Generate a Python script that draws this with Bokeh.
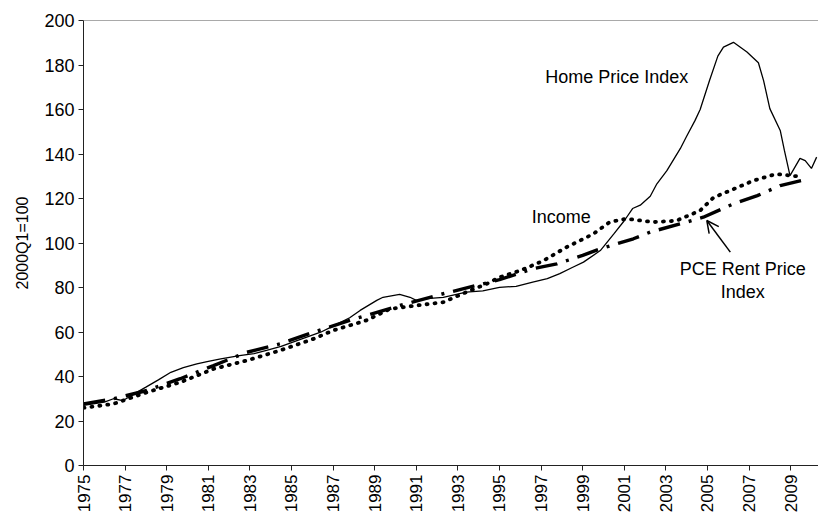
from bokeh.plotting import figure
from bokeh.models import Arrow, OpenHead, Span, FixedTicker, Range1d
from bokeh.core.properties import value
from bokeh.embed import file_html
from bokeh.resources import INLINE

# ---- data ----
home_t = [1975.0, 1976.0, 1976.44, 1976.9, 1977.5, 1978.0, 1978.6, 1979.2, 1979.8, 1980.45,
          1981.0, 1981.6, 1982.5, 1983.2, 1983.8, 1984.5, 1985.3, 1986.4, 1986.9, 1987.8,
          1988.3, 1989.1, 1989.4, 1990.2, 1990.7, 1991.0, 1991.5, 1992.3, 1993.4, 1994.2,
          1995.0, 1995.8, 1996.6, 1997.3, 1997.9, 1998.5, 1999.04, 1999.85, 2000.5, 2001.0,
          2001.4, 2001.77, 2002.25, 2002.57, 2003.05, 2003.7, 2004.0, 2004.4, 2004.65, 2005.1,
          2005.5, 2005.77, 2006.25, 2006.9, 2007.45, 2007.7, 2008.0, 2008.5, 2008.7, 2008.97,
          2009.45, 2009.7, 2010.0, 2010.25]
home_v = [27.0, 28.5, 30.0, 29.2, 32.5, 35.2, 38.5, 41.9, 44.0, 45.7,
          46.8, 47.9, 49.4, 50.3, 51.7, 53.5, 56.2, 59.9, 62.2, 66.4,
          69.7, 74.2, 75.6, 76.9, 75.6, 74.2, 75.0, 75.6, 77.9, 78.5,
          80.1, 80.5, 82.4, 84.0, 86.2, 89.0, 91.4, 96.6, 104.1, 110.0,
          115.5, 117.0, 121.0, 126.6, 132.5, 142.5, 148.0, 155.0, 160.0, 173.0,
          184.0, 188.0, 190.2, 185.8, 181.0, 173.0, 160.4, 150.6, 141.6, 130.3,
          138.0, 137.0, 133.5, 138.6]

income_t = [1975.0, 1976.44, 1978.05, 1979.65, 1981.25, 1982.86, 1984.45, 1986.06, 1987.0, 1988.6,
            1989.75, 1991.0, 1992.3, 1993.4, 1994.4, 1995.0, 1996.0, 1997.1, 1998.2, 1999.5,
            2000.3, 2001.1, 2002.4, 2003.5, 2004.65, 2005.3, 2006.1, 2007.2, 2008.3, 2009.3]
income_v = [25.9, 27.7, 32.9, 37.4, 43.4, 47.2, 51.7, 56.9, 60.7, 65.2,
            70.4, 71.9, 73.4, 77.9, 81.7, 84.6, 87.6, 92.0, 98.0, 104.0,
            109.4, 110.9, 109.4, 110.0, 114.6, 120.5, 123.6, 128.0, 131.0, 130.0]

rent_t = [1975.0, 1976.44, 1978.05, 1979.65, 1981.25, 1982.86, 1984.45, 1986.06, 1987.8, 1990.2,
          1992.3, 1995.0, 1996.6, 1997.76, 1999.0, 1999.85, 2001.44, 2002.25, 2004.0, 2004.8,
          2006.25, 2007.4, 2008.5, 2009.5]
rent_v = [27.7, 30.0, 33.7, 39.0, 44.9, 50.9, 54.7, 59.9, 65.2, 71.9,
          77.2, 83.5, 88.4, 90.6, 94.4, 97.4, 101.9, 104.9, 109.4, 111.6,
          117.6, 121.3, 125.8, 128.0]

x_ticks = list(range(1975, 2010, 2))
y_ticks = list(range(0, 201, 20))

# annotation positions
lbl_home = (1997.2, 174.4, "Home Price Index")
lbl_income = (1996.55, 111.6, "Income")
lbl_rent1 = (2006.7, 88.5, "PCE Rent Price")
lbl_rent2 = (2006.7, 77.8, "Index")
arrow_from = (2006.1, 95.9)
arrow_to = (2004.97, 110.1)

FONT = "Liberation Sans"

p = figure(width=818, height=515, output_backend="svg", toolbar_location=None,
           x_range=Range1d(1975, 2010.34), y_range=Range1d(0, 200),
           min_border_left=83, min_border_right=0, min_border_top=20, min_border_bottom=50)
p.outline_line_color = None
p.grid.grid_line_color = None
p.background_fill_color = "white"

p.xaxis.ticker = FixedTicker(ticks=x_ticks)
p.yaxis.ticker = FixedTicker(ticks=y_ticks)
p.xaxis.major_label_orientation = 1.5707963
p.xaxis.minor_tick_line_color = None
p.yaxis.minor_tick_line_color = None
for ax in (p.xaxis, p.yaxis):
    ax.axis_line_color = "#222222"
    ax.major_tick_line_color = "#222222"
    ax.major_tick_in = 0
    ax.major_tick_out = 5
    ax.major_label_text_font = FONT
    ax.major_label_text_color = "black"
p.xaxis.major_label_text_font_size = "17px"
p.xaxis.major_label_standoff = 4
p.yaxis.major_label_text_font_size = "18px"
p.yaxis.major_label_standoff = 4
p.yaxis.axis_label = "2000Q1=100"
p.yaxis.axis_label_text_font = FONT
p.yaxis.axis_label_text_font_style = "normal"
p.yaxis.axis_label_text_font_size = "16px"
p.yaxis.axis_label_text_color = "black"
p.yaxis.axis_label_standoff = 10

p.add_layout(Span(location=200, dimension="width", line_color="#555555", line_width=1))

p.line(home_t, home_v, line_color="black", line_width=1.3)
p.line(income_t, income_v, line_color="black", line_width=3.8, line_dash="1 7", line_cap="round")
p.line(rent_t, rent_v, line_color="black", line_width=3.4, line_dash="22 9 3 9", line_cap="butt")

p.text(x=[lbl_home[0], lbl_income[0]], y=[lbl_home[1], lbl_income[1]],
       text=[lbl_home[2], lbl_income[2]], text_font=value(FONT), text_font_size="18px",
       text_align="left", text_baseline="middle", text_color="black")
p.text(x=[lbl_rent1[0], lbl_rent2[0]], y=[lbl_rent1[1], lbl_rent2[1]],
       text=[lbl_rent1[2], lbl_rent2[2]], text_font=value(FONT), text_font_size="18px",
       text_align="center", text_baseline="middle", text_color="black")
p.add_layout(Arrow(end=OpenHead(size=12, line_width=1.5, line_color="black"),
                   x_start=arrow_from[0], y_start=arrow_from[1],
                   x_end=arrow_to[0], y_end=arrow_to[1], line_width=1.5, line_color="black"))

open("out.html", "w").write(file_html(p, INLINE))
